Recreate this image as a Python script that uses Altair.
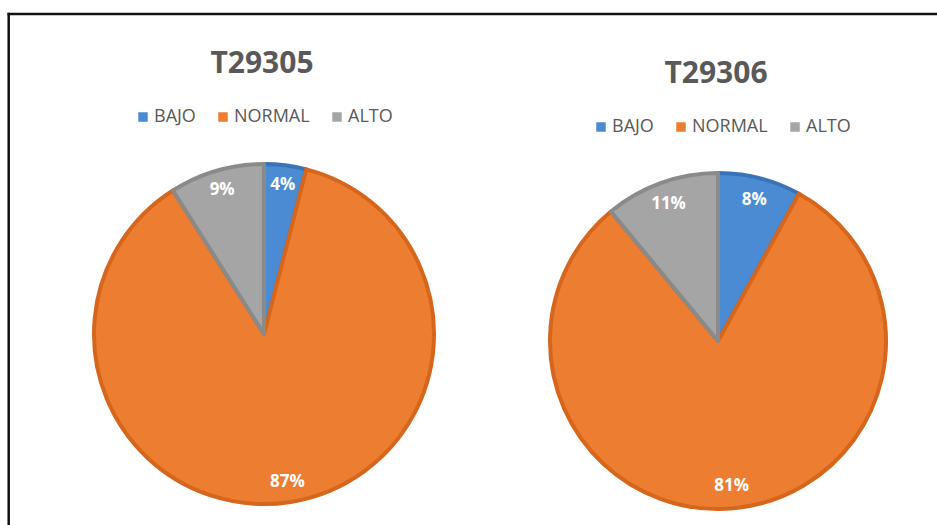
import altair as alt
import pandas as pd

categorias = ["BAJO", "NORMAL", "ALTO"]
series = ["T29305", "T29306"]
valores_t29305 = [4, 87, 9]
valores_t29306 = [8, 81, 11]
colores = ["#4A8BD3", "#ED7D31", "#A5A5A5"]
bordes = ["#3B74B6", "#D5661C", "#8A8A8A"]

FONT = "Open Sans"
TEXT_COLOR = "#595959"
W, H = 937, 525

layout = {
    "T29305": dict(cx=264, cy=334, r=172, lr=150, title_y=73, legend_x=134, legend_y=108),
    "T29306": dict(cx=718, cy=341, r=170, lr=146, title_y=83, legend_x=592, legend_y=118),
}


def pie(serie, valores, L):
    df = pd.DataFrame({
        "categoria": categorias,
        "valor": valores,
        "orden": list(range(len(categorias))),
        "serie": serie,
    })
    df["etiqueta"] = df["valor"].astype(str) + "%"
    base = alt.Chart(df).encode(
        theta=alt.Theta("valor:Q", stack=True),
        order=alt.Order("orden:Q"),
        x=alt.value(L["cx"]),
        y=alt.value(L["cy"]),
    )
    arc = base.mark_arc(outerRadius=L["r"] - 2, strokeWidth=4, strokeJoin="round").encode(
        color=alt.Color(
            "categoria:N",
            sort=categorias,
            scale=alt.Scale(domain=categorias, range=colores),
            legend=alt.Legend(
                title=None, orient="none", legendX=L["legend_x"], legendY=L["legend_y"],
                direction="horizontal", symbolType="square", symbolSize=90,
                symbolStrokeWidth=0, labelFont=FONT, labelFontSize=18,
                labelColor=TEXT_COLOR, columnPadding=18, labelOffset=2, padding=0,
            ),
        ),
        stroke=alt.Stroke("categoria:N", scale=alt.Scale(domain=categorias, range=bordes), legend=None),
    )
    text = base.mark_text(
        radius=L["lr"], font=FONT, fontWeight="bold", fontSize=17, color="white"
    ).encode(text="etiqueta:N")
    title = alt.Chart(pd.DataFrame({"serie": [serie]})).mark_text(
        font=FONT, fontWeight="bold", fontSize=30, color=TEXT_COLOR,
        baseline="alphabetic", align="center",
    ).encode(x=alt.value(L["cx"] - 2), y=alt.value(L["title_y"]), text="serie:N")
    return [arc, text, title]


dummy = alt.Data(values=[{"a": 1}])
top_rule = alt.Chart(dummy).mark_rule(color="#111111", strokeWidth=2.5).encode(
    x=alt.value(7.5), x2=alt.value(W), y=alt.value(14)
)
left_rule = alt.Chart(dummy).mark_rule(color="#111111", strokeWidth=2.5).encode(
    x=alt.value(8.7), y=alt.value(12.8), y2=alt.value(H)
)

layers = []
for s, v in zip(series, [valores_t29305, valores_t29306]):
    layers += pie(s, v, layout[s])

chart = (
    alt.layer(top_rule, left_rule, *layers)
    .resolve_scale(color="independent", stroke="independent")
    .properties(width=W, height=H, padding=0, background="white",
                autosize=alt.AutoSizeParams(type="none"))
    .configure_view(stroke="transparent")
)

chart.save("out.html", embed_options={"renderer": "svg", "actions": False})
